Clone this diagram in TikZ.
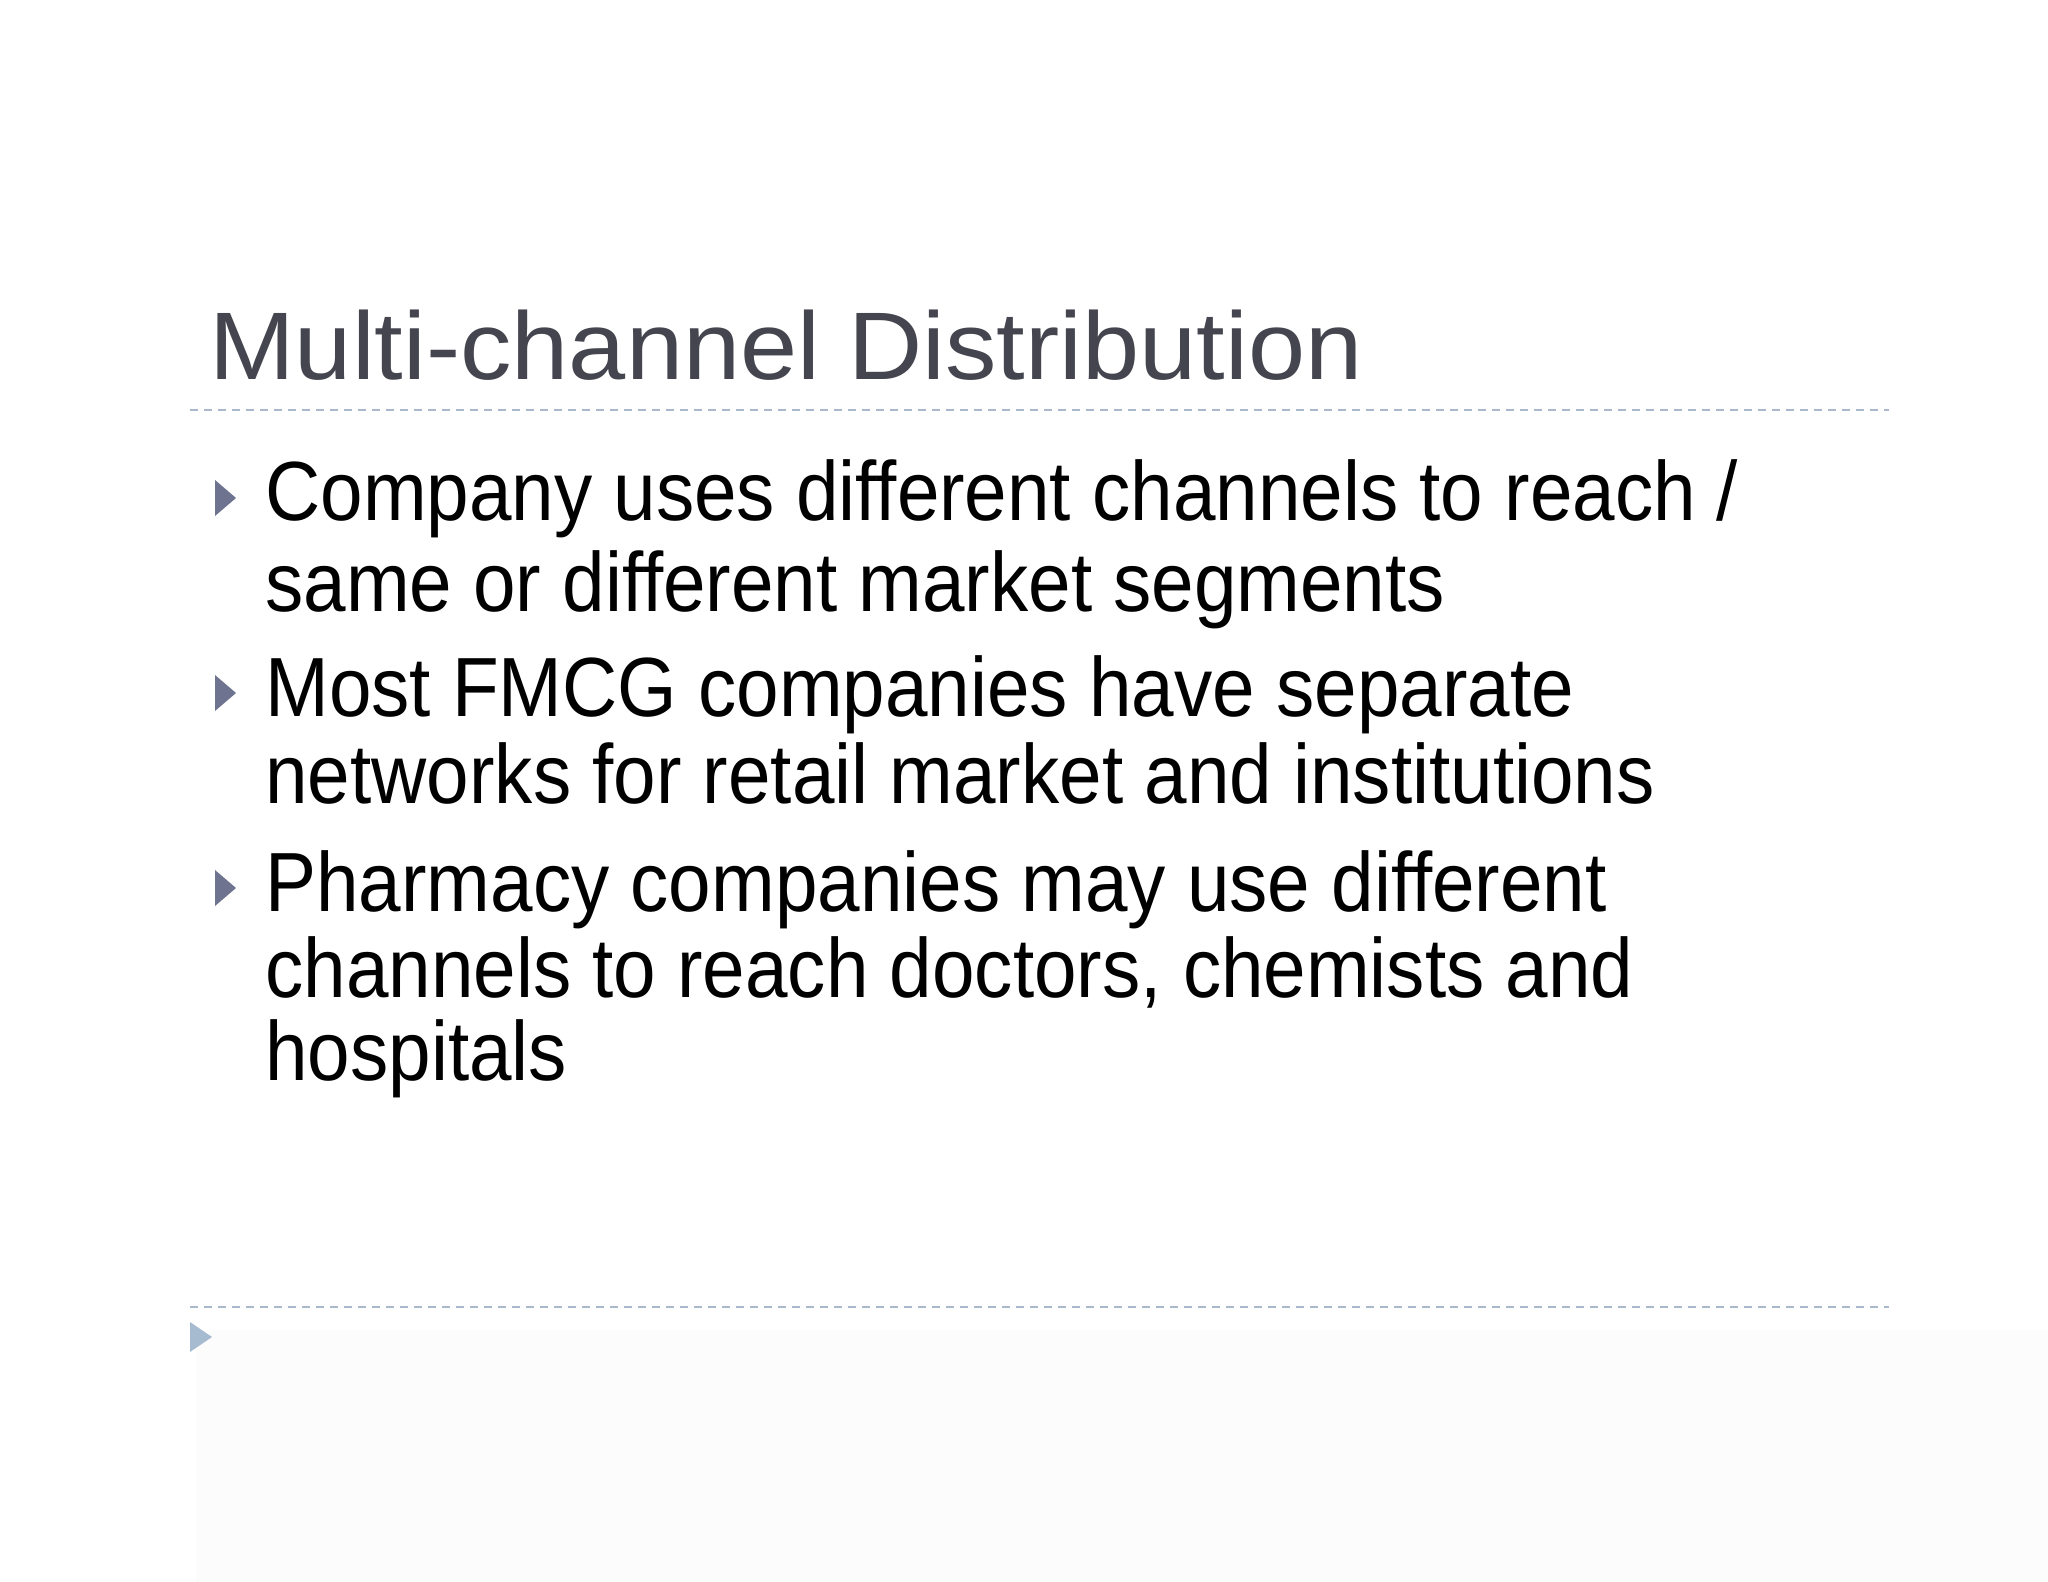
\documentclass[tikz,border=0pt]{standalone}
\usepackage{fontspec}
\setmainfont{Liberation Sans}[FakeStretch=0.91]
\newfontfamily\titlefont{Liberation Sans}[FakeStretch=1.07]
\definecolor{dashc}{HTML}{A9B8CB}
\definecolor{titlec}{HTML}{45454F}
\definecolor{bul}{HTML}{6E7490}
\definecolor{bul2}{HTML}{A7BBD0}
\definecolor{foot}{HTML}{FCFCFD}
\begin{document}
\begin{tikzpicture}[x=0.5pt,y=-0.5pt,
  sep/.style={draw=dashc, line width=1.2pt, dash pattern=on 4pt off 3pt},
  body/.style={anchor=base west, inner sep=0pt, font=\fontsize{42}{50}\selectfont},
  tri/.style={fill=bul}]
\useasboundingbox (0,0) rectangle (2048,1582);
\fill[white] (0,0) rectangle (2048,1582);
\fill[foot] (196,1330) rectangle (2048,1582);
\node[anchor=base west, inner sep=0pt, text=titlec, font=\titlefont\fontsize{48}{56}\selectfont] (title) at (209,380) {Multi-channel Distribution};
\coordinate (l1a) at (190,410); \coordinate (l1b) at (1889,410);
\draw[sep] (l1a) -- (l1b);
\coordinate (l2a) at (190,1307); \coordinate (l2b) at (1889,1307);
\draw[sep] (l2a) -- (l2b);
\foreach \y in {498,693,888} \fill[tri] (215,\y-18) -- (236,\y) -- (215,\y+18) -- cycle;
\fill[bul2] (190,1322) -- (212,1337) -- (190,1352) -- cycle;
\node[body] (a1) at (265,521) {Company uses different channels to reach /};
\node[body] (a2) at (265,611) {same or different market segments};
\node[body] (b1) at (265,716) {Most FMCG companies have separate};
\node[body] (b2) at (265,803) {networks for retail market and institutions};
\node[body] (c1) at (265,911) {Pharmacy companies may use different};
\node[body] (c2) at (265,997) {channels to reach doctors, chemists and};
\node[body] (c3) at (265,1080) {hospitals};
\end{tikzpicture}
\end{document}
